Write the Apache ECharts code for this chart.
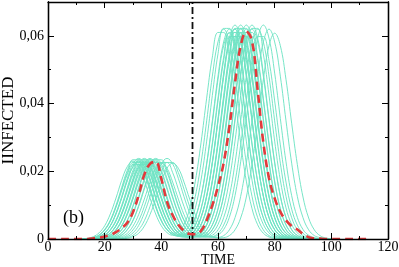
<!DOCTYPE html>
<html><head><meta charset="utf-8">
<script src="https://cdn.jsdelivr.net/npm/echarts@6/dist/echarts.min.js"></script>
<style>html,body{margin:0;padding:0;background:#fff}#c{width:399px;height:267px}</style>
</head><body><div id="c"></div>
<script>
// Values of INFECTED are stored in units of 0.0001
const X_TICKS = [0, 20, 40, 60, 80, 100, 120];
const Y_TICKS = [0, 200, 400, 600];
const SPLIT_TIME = 51;
const PANEL_LABEL = '(b)';

const GREEN_T = [10,12,14,16,18,20,22,24,26,28,30,32,34,36,38,40,42,44,46,48,50,52,54,56,58,60,62,64,66,68,70,72,74,76,78,80,82,84,86,88,90,92,94,96,98,100];
const RED_T = [0,2,4,6,8,10,12,14,16,18,20,22,24,26,28,30,32,34,36,38,40,42,44,46,48,50,52,54,56,58,60,62,64,66,68,70,72,74,76,78,80,82,84,86,88,90,92,94,96,98,100,102,104,106,108,110,112,114];
const RED_MEAN = [0,0,0,0,0,0,0,0,2,4,7,12,20,32,48,80,130,190,222,228,178,110,70,42,24,15,14,24,55,100,155,225,330,460,570,612,585,440,285,180,120,80,55,38,28,15,5,2,1,0,0,0,0,0,0,0,0,0];

const c1 = [0,1,2,7,18,39,74,121,173,214,230,214,173,121,74,39,19,11,12,28,63,126,224,349,481,582,620,582,481,349,224,126,63,27,10,4,1,0];
const c2 = [0,0,1,4,11,27,54,96,147,196,226,226,196,147,96,54,27,13,10,19,43,92,174,289,424,547,622,622,547,424,289,174,92,43,18,6,2,0];
const c3 = [0,0,1,4,12,28,56,99,152,203,234,234,203,152,99,56,28,13,8,11,27,63,126,224,349,481,582,620,582,481,349,224,126,63,27,10,4,1,0];
const c4 = [0,0,1,2,7,18,39,74,121,173,214,230,214,173,121,74,39,19,10,12,28,62,124,220,342,471,571,608,571,471,342,220,124,62,27,10,3,1,0];
const c5 = [0,0,1,2,7,18,40,77,125,179,222,238,222,179,125,77,40,18,9,8,18,42,90,171,284,416,537,610,610,537,416,284,171,90,42,17,6,2,0];
const c6 = [0,0,0,1,4,11,27,54,96,147,196,226,226,196,147,96,54,27,12,8,12,28,64,128,228,356,490,593,632,593,490,356,228,128,64,28,11,4,1,0];
const c7 = [0,0,0,1,4,11,26,53,94,143,191,220,220,191,143,94,53,26,13,10,18,41,88,168,278,408,527,598,598,527,408,278,168,88,41,17,6,2,0];
const c8 = [0,0,0,1,4,12,28,56,99,152,203,234,234,203,152,99,56,28,12,6,7,17,42,90,171,284,416,537,610,610,537,416,284,171,90,42,17,6,2,0];
const c9 = [0,0,0,1,2,7,18,39,74,121,173,214,230,214,173,121,74,39,19,11,12,28,63,126,224,349,481,582,620,582,481,349,224,126,63,27,10,4,1,0];
const c10 = [0,0,0,1,2,7,18,40,77,125,179,222,238,222,179,125,77,40,18,9,8,19,43,92,174,289,424,547,622,622,547,424,289,174,92,43,18,6,2,0];
const c11 = [0,0,0,1,2,7,17,38,72,118,168,209,224,209,168,118,72,38,17,8,6,11,27,63,126,224,349,481,582,620,582,481,349,224,126,63,27,10,4,1,0];
const c12 = [0,0,0,0,1,4,11,27,54,96,147,196,226,226,196,147,96,54,27,13,10,18,41,88,168,278,408,527,598,598,527,408,278,168,88,41,17,6,2,0];
const c13 = [0,0,0,0,1,4,12,28,56,99,152,203,234,234,203,152,99,56,28,13,8,12,28,64,128,228,356,490,593,632,593,490,356,228,128,64,28,11,4,1,0];
const c14 = [0,0,0,0,1,4,11,26,53,94,143,191,220,220,191,143,94,53,26,11,6,7,17,42,90,171,284,416,537,610,610,537,416,284,171,90,42,17,6,2,0];
const c15 = [0,0,0,0,1,2,7,18,39,74,121,173,214,230,214,173,121,74,39,19,10,12,28,62,124,220,342,471,571,608,571,471,342,220,124,62,27,10,3,1,0];
const c16 = [0,0,0,0,1,2,7,18,40,77,125,179,222,238,222,179,125,77,40,18,8,6,11,27,63,126,224,349,481,582,620,582,481,349,224,126,63,27,10,4,1,0];
const c17 = [0,0,0,0,1,2,7,17,38,72,118,168,209,224,209,168,118,72,38,17,9,8,19,43,92,174,289,424,547,622,622,547,424,289,174,92,43,18,6,2,0];
const c18 = [0,0,0,0,0,1,4,11,27,54,96,147,196,226,226,196,147,96,54,27,12,8,12,28,64,128,228,356,490,593,632,593,490,356,228,128,64,28,11,4,1,0];
const c19 = [0,0,0,0,0,1,4,12,28,56,99,152,203,234,234,203,152,99,56,28,12,6,7,17,42,90,171,284,416,537,610,610,537,416,284,171,90,42,17,6,2,0];
const c20 = [0,0,0,0,0,1,2,7,18,39,74,121,173,214,230,214,173,121,74,39,18,9,8,18,41,88,168,278,408,527,598,598,527,408,278,168,88,41,17,6,2,0];
const c21 = [0,0,0,0,0,1,2,7,18,40,77,125,179,222,238,222,179,125,77,40,18,8,6,11,27,63,126,224,349,481,582,620,582,481,349,224,126,63,27,10,4,1,0];
const c22 = [0,0,0,0,0,0,1,4,11,27,54,96,147,196,226,226,196,147,96,54,27,11,6,7,18,43,92,174,289,424,547,622,622,547,424,289,174,92,43,18,6,2,0];
const c23 = [0,0,0,0,0,0,1,2,7,17,38,72,118,168,209,224,209,168,118,72,38,17,8,6,11,27,63,126,224,349,481,582,620,582,481,349,224,126,63,27,10,4,1,0];
const c24 = [0,0,0,0,0,0,0,1,4,11,27,54,96,147,196,226,226,196,147,96,54,27,11,6,7,17,41,88,168,278,408,527,598,598,527,408,278,168,88,41,17,6,2,0];
const c25 = [0,0,0,0,0,0,0,1,2,7,18,40,77,125,179,222,238,222,179,125,77,40,18,8,6,12,28,64,128,228,356,490,593,632,593,490,356,228,128,64,28,11,4,1,0];
const c26 = [0,0,0,0,0,0,0,0,1,4,11,27,54,96,147,196,226,226,196,147,96,54,27,11,5,5,10,27,63,126,224,349,481,582,620,582,481,349,224,126,63,27,10,4,1,0];
const c27 = [0,0,0,0,0,0,0,0,1,2,7,17,38,72,118,168,209,224,209,168,118,72,38,17,7,3,4,10,27,62,124,220,342,471,571,608,571,471,342,220,124,62,27,10,3,1];
const c28 = [0,0,1,2,7,18,39,74,121,173,214,230,214,173,121,74,39,18,8,6,11,27,63,126,224,349,481,582,620,582,481,349,224,126,63,27,10,4,1,0];
const c29 = [0,0,0,1,2,7,18,39,74,121,173,214,230,214,173,121,74,39,18,7,4,7,17,41,88,168,278,408,527,598,598,527,408,278,168,88,41,17,6,2,0];
const c30 = [0,0,0,0,0,0,1,4,12,28,56,99,152,203,234,234,203,152,99,56,28,13,8,12,28,64,128,228,356,490,593,632,593,490,356,228,128,64,28,11,4,1,0];
const c31 = [0,0,1,4,11,26,53,94,143,191,220,220,191,143,94,53,28,17,21,43,90,171,284,416,537,610,610,537,416,284,171,90,42,17,6,2,0];
const RUNS = [c1,c2,c3,c4,c5,c6,c7,c8,c9,c10,c11,c12,c13,c14,c15,c16,c17,c18,c19,c20,c21,c22,c23,c24,c25,c26,c27,c28,c29,c30,c31];

const FONT = '"Liberation Serif", "DejaVu Serif", serif';
const AX = '#000';
const fmtY = v => (Y_TICKS.indexOf(v) < 0) ? '' : (v === 0 ? '0' : (v / 10000).toFixed(2).replace('.', ','));

const series = [];
RUNS.forEach((run, k) => {
  series.push({
    name: 'run' + (k + 1), type: 'line', silent: true, symbol: 'none', smooth: 0.4,
    data: run.map((v, i) => [GREEN_T[i], v]),
    lineStyle: { color: '#70e4c4', width: 1, opacity: 0.95 }, z: 2
  });
});
series.push({
  name: 'split', type: 'line', silent: true, symbol: 'none',
  data: [[SPLIT_TIME, 0], [SPLIT_TIME, 700]],
  lineStyle: { color: '#111', width: 1.8, type: [7, 3, 2, 3] }, z: 3
});
series.push({
  name: 'mean', type: 'line', silent: true, symbol: 'none', smooth: 0.4,
  data: RED_MEAN.map((v, i) => [RED_T[i], v]),
  lineStyle: { color: '#e23a3c', width: 2.6, type: [8, 5] }, z: 4
});

const xBase = {
  type: 'value', min: X_TICKS[0], max: X_TICKS[X_TICKS.length - 1], interval: 20,
  axisLine: { show: true, onZero: false, lineStyle: { color: AX, width: 1.3 } },
  axisTick: { show: true, inside: true, length: 6, lineStyle: { color: AX, width: 1 } },
  minorTick: { show: true, splitNumber: 2, length: 3, lineStyle: { color: AX, width: 1 } },
  splitLine: { show: false }, minorSplitLine: { show: false }, z: 6
};
const yBase = (pos, interval, len, labels) => ({
  type: 'value', position: pos, min: 0, max: 700, interval: interval,
  axisLine: { show: true, onZero: false, lineStyle: { color: AX, width: 1.3 } },
  axisTick: { show: true, inside: true, length: len, lineStyle: { color: AX, width: 1 } },
  splitLine: { show: false },
  axisLabel: labels ? { show: true, formatter: fmtY, fontFamily: FONT, fontSize: 14, color: '#000', margin: 4, showMaxLabel: false } : { show: false },
  z: 6
});

const yMain = yBase('left', 200, 6, true);
yMain.name = 'IINFECTED';
yMain.nameLocation = 'middle';
yMain.nameRotate = 90;
yMain.nameGap = 31;
yMain.nameMoveOverlap = false;
yMain.nameTextStyle = { fontFamily: FONT, fontSize: 17, color: '#000' };

const option = {
  animation: false,
  backgroundColor: '#fff',
  grid: { left: 48, right: 11, top: 2, bottom: 28, containLabel: false, outerBoundsMode: 'none' },
  xAxis: [
    Object.assign({}, xBase, {
      position: 'bottom',
      axisLabel: { show: true, fontFamily: FONT, fontSize: 14, color: '#000', margin: 1 },
      name: 'TIME', nameLocation: 'middle', nameGap: 14, nameMoveOverlap: false,
      nameTextStyle: { fontFamily: FONT, fontSize: 14, color: '#000' }
    }),
    Object.assign({}, xBase, { position: 'top', axisLabel: { show: false } })
  ],
  yAxis: [
    yMain,
    yBase('left', 100, 3, false),
    yBase('right', 200, 6, false),
    yBase('right', 100, 3, false)
  ],
  graphic: [{
    type: 'text', left: 63, top: 209,
    style: { text: PANEL_LABEL, font: '18px ' + FONT, fill: '#000' }
  }],
  series: series
};

const chart = echarts.init(document.getElementById('c'), null, { renderer: 'canvas' });
chart.setOption(option);
</script>
</body></html>
